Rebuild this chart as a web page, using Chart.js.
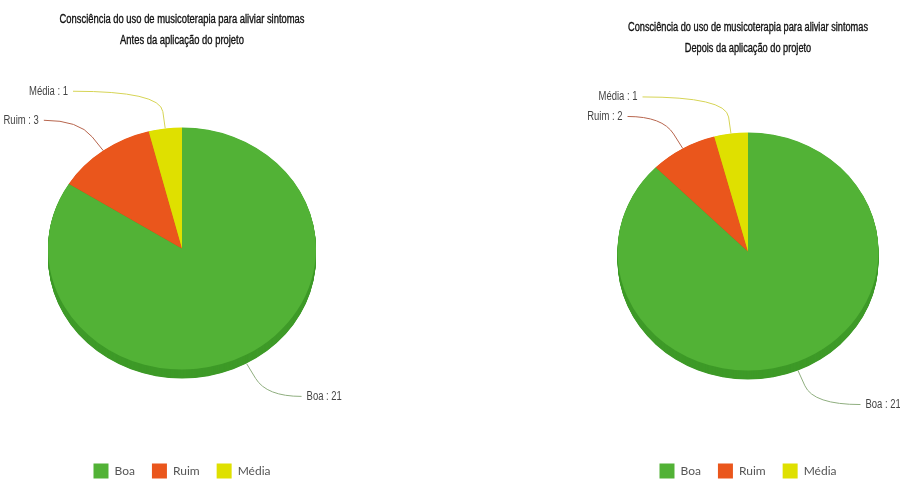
<!DOCTYPE html>
<html>
<head>
<meta charset="utf-8">
<script src="https://cdn.jsdelivr.net/npm/chart.js@4.4.1/dist/chart.umd.min.js"></script>
<style>
  html, body { margin: 0; padding: 0; background: #ffffff; }
  #wrap { position: relative; width: 900px; height: 480px; overflow: hidden; background: #fff; }
  .box { position: absolute; top: 0; height: 480px; }
</style>
</head>
<body>
<div id="wrap">
  <div class="box" style="left:0px;width:364px;"><canvas id="c1" width="364" height="480"></canvas></div>
  <div class="box" style="left:560px;width:340px;"><canvas id="c2" width="340" height="480"></canvas></div>
</div>
<script>
// ---- data ----
const categories = ['Boa', 'Ruim', 'Média'];
const valuesAntes = [21, 3, 1];
const valuesDepois = [21, 2, 1];
const titleMain = 'Consciência do uso de musicoterapia para aliviar sintomas';
const titleAntes = 'Antes da aplicação do projeto';
const titleDepois = 'Depois da aplicação do projeto';

// ---- styles ----
const sliceColors = ['#52b236', '#ea561c', '#dfe000'];
const sideColors = ['#3e9a28', '#c2420f', '#b5b600'];
const lineColors = ['#8fae7f', '#b7654d', '#d6d455'];
const sans = "'Liberation Sans', Arial, sans-serif";

const pie3d = {
  id: 'pie3d',
  beforeDatasetsDraw(chart, args, opts) {
    const meta = chart.getDatasetMeta(0);
    const a0 = meta.data[0];
    const cx = a0.x, cy = a0.y;
    const ctx = chart.ctx;
    ctx.save();
    ctx.translate(cx, cy);
    ctx.scale(1, opts.squash);
    ctx.translate(-cx, -cy);
    for (let d = opts.depth; d > 0; d -= 0.5) {
      meta.data.forEach((arc, i) => {
        const oy = cy + d / opts.squash;
        ctx.beginPath();
        ctx.moveTo(cx, oy);
        ctx.arc(cx, oy, arc.outerRadius, arc.startAngle, arc.endAngle);
        ctx.closePath();
        ctx.fillStyle = sideColors[i];
        ctx.fill();
      });
    }
  },
  afterDatasetsDraw(chart) {
    chart.ctx.restore();
  }
};

const leaderLabels = {
  id: 'leaderLabels',
  afterDraw(chart, args, opts) {
    const meta = chart.getDatasetMeta(0);
    const ds = chart.data.datasets[0];
    const ctx = chart.ctx;
    const sq = opts.squash, depth = opts.depth;
    const a0 = meta.data[0];
    const cx = a0.x, cy = a0.y, r = a0.outerRadius;
    const pieLeft = cx - r, pieRight = cx + r;
    ctx.save();
    ctx.font = "12px " + sans;
    ctx.textBaseline = 'middle';
    meta.data.forEach((arc, i) => {
      const mid = (arc.startAngle + arc.endAngle) / 2;
      const c = Math.cos(mid), s = Math.sin(mid);
      const dy = s > 0 ? depth : 0;
      const pt = k => [cx + r * k * c, cy + r * sq * k * s + dy];
      const a = pt(1), b = pt(1.14), e = pt(1.31);
      const text = chart.data.labels[i] + ' : ' + ds.data[i];
      const w = ctx.measureText(text).width * opts.squeeze;
      let tx, lineEnd;
      if (c < 0) {
        tx = Math.min(e[0] - 40, pieLeft + 20);
        lineEnd = tx + 5;
        tx -= w / 2;
      } else {
        tx = Math.max(e[0] + 40, pieRight - 13);
        lineEnd = tx - 5;
        tx += w / 2;
      }
      ctx.beginPath();
      ctx.moveTo(a[0], a[1]);
      ctx.lineTo(b[0], b[1]);
      ctx.quadraticCurveTo(e[0], e[1], lineEnd, e[1]);
      ctx.strokeStyle = lineColors[i];
      ctx.lineWidth = 1;
      ctx.stroke();
      ctx.fillStyle = '#444';
      ctx.textAlign = 'center';
      ctx.fillText(text, tx, e[1], w);
    });
    ctx.restore();
  }
};

const condensedTitle = {
  id: 'condensedTitle',
  afterDraw(chart, args, opts) {
    const ctx = chart.ctx;
    ctx.save();
    ctx.font = "12px " + sans;
    ctx.fillStyle = '#111';
    ctx.strokeStyle = '#111';
    ctx.lineWidth = 0.35;
    ctx.textAlign = 'center';
    ctx.textBaseline = 'middle';
    const x = (chart.chartArea.left + chart.chartArea.right) / 2;
    const lines = [titleMain, opts.subtitle];
    const f = opts.firstWidth / ctx.measureText(lines[0]).width;
    lines.forEach((t, i) => {
      const w = ctx.measureText(t).width * f;
      ctx.fillText(t, x, opts.top + i * opts.gap, w);
      ctx.strokeText(t, x, opts.top + i * opts.gap, w);
    });
    ctx.restore();
  }
};

function makeChart(id, values, subtitle, cfg) {
  return new Chart(document.getElementById(id), {
    type: 'pie',
    data: {
      labels: categories,
      datasets: [{
        data: values,
        backgroundColor: sliceColors,
        borderWidth: 0,
        radius: cfg.radius
      }]
    },
    plugins: [pie3d, leaderLabels, condensedTitle],
    options: {
      responsive: false,
      animation: false,
      events: [],
      layout: { padding: { left: cfg.padL, right: cfg.padR, top: cfg.padTop, bottom: -8.5 } },
      plugins: {
        pie3d: { squash: cfg.squash, depth: 9 },
        leaderLabels: { squash: cfg.squash, depth: 9, squeeze: 0.79 },
        condensedTitle: { subtitle: subtitle, top: cfg.titleY, gap: 21, firstWidth: cfg.titleW },
        tooltip: { enabled: false },
        title: { display: false },
        legend: {
          display: true,
          position: 'bottom',
          labels: {
            boxWidth: 15,
            boxHeight: 15,
            padding: 17,
            color: '#555',
            font: { family: 'Lato, sans-serif', size: 12 }
          }
        }
      }
    }
  });
}

makeChart('c1', valuesAntes, titleAntes, {
  radius: 134, padL: 40, padR: 40, padTop: 50.5, squash: 0.903, titleY: 20, titleW: 245
});
makeChart('c2', valuesDepois, titleDepois, {
  radius: 130.5, padL: 56, padR: 20, padTop: 56.5, squash: 0.912, titleY: 28, titleW: 240
});
</script>
</body>
</html>
